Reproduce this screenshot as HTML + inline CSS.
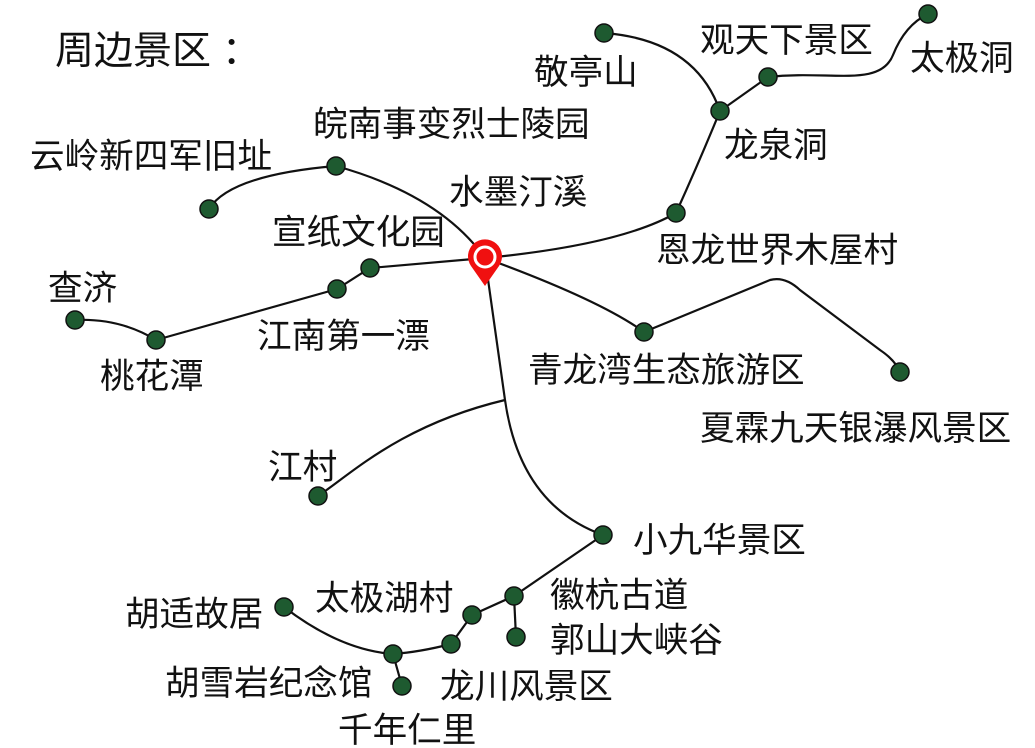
<!DOCTYPE html>
<html><head><meta charset="utf-8"><style>
html,body{margin:0;padding:0;background:#fff;}
svg{display:block}
text{font-family:"Liberation Sans","Noto Sans CJK SC",sans-serif;font-size:34.6px;fill:#111}
</style></head><body>
<svg width="1035" height="748" viewBox="0 0 1035 748">
<g fill="none" stroke="#111" stroke-width="2.2">
<path d="M485,258 Q620,245 676,213"/>
<path d="M676,213 Q700,160 720,111"/>
<path d="M720,111 Q695,40 604,33"/>
<path d="M720,111 L768,77"/>
<path d="M768,77 C830,70 880,88 893,55 Q905,25 928,14"/>
<path d="M485,258 Q440,195 336,166"/>
<path d="M336,166 Q230,175 209,209"/>
<path d="M485,258 L370,268 L337,289 L156,340"/>
<path d="M156,340 Q120,318 75,320"/>
<path d="M485,258 Q600,300 644,332"/>
<path d="M644,332 L770,280 Q785,276 800,290 L880,350 Q895,360 900,372"/>
<path d="M485,258 L505,400 Q520,505 603,535"/>
<path d="M505,400 C400,425 350,475 318,496"/>
<path d="M603,535 L514,596 L472,615 L451,644 Q420,652 393,654 Q340,650 284,607"/>
<path d="M514,596 L516,637"/>
<path d="M393,654 L402,686"/>
</g>
<g fill="#1e5a30" stroke="#111" stroke-width="1.5">
<circle cx="604" cy="33" r="9"/><circle cx="720" cy="111" r="9"/><circle cx="768" cy="77" r="9"/>
<circle cx="928" cy="14" r="9"/><circle cx="676" cy="213" r="9"/><circle cx="336" cy="166" r="9"/>
<circle cx="209" cy="209" r="9"/><circle cx="370" cy="268" r="9"/><circle cx="337" cy="289" r="9"/>
<circle cx="156" cy="340" r="9"/><circle cx="75" cy="320" r="9"/><circle cx="644" cy="332" r="9"/>
<circle cx="900" cy="372" r="9"/><circle cx="318" cy="496" r="9"/><circle cx="603" cy="535" r="9"/>
<circle cx="514" cy="596" r="9"/><circle cx="516" cy="637" r="9"/><circle cx="472" cy="615" r="9"/>
<circle cx="451" cy="644" r="9"/><circle cx="393" cy="654" r="9"/><circle cx="402" cy="686" r="9"/>
<circle cx="284" cy="607" r="9"/>
</g>
<path d="M485,286 L471,266 A17,17 0 1 1 499,266 Z" fill="#f01010"/>
<circle cx="485" cy="257" r="10" fill="none" stroke="#fff" stroke-width="3"/>
<circle cx="485" cy="257" r="5.5" fill="#f01010"/>
<text x="55" y="64" style="font-size:39px">周边景区 ：</text>
<text x="534" y="84">敬亭山</text>
<text x="700" y="52">观天下景区</text>
<text x="910" y="70">太极洞</text>
<text x="724" y="157">龙泉洞</text>
<text x="313" y="136">皖南事变烈士陵园</text>
<text x="30" y="168">云岭新四军旧址</text>
<text x="449" y="204">水墨汀溪</text>
<text x="272" y="244">宣纸文化园</text>
<text x="656" y="262">恩龙世界木屋村</text>
<text x="48" y="300">查济</text>
<text x="257" y="348">江南第一漂</text>
<text x="100" y="388">桃花潭</text>
<text x="528" y="382">青龙湾生态旅游区</text>
<text x="700" y="440">夏霖九天银瀑风景区</text>
<text x="268" y="479">江村</text>
<text x="633" y="552">小九华景区</text>
<text x="550" y="607">徽杭古道</text>
<text x="125" y="626">胡适故居</text>
<text x="315" y="610">太极湖村</text>
<text x="550" y="652">郭山大峡谷</text>
<text x="165" y="695">胡雪岩纪念馆</text>
<text x="440" y="698">龙川风景区</text>
<text x="338" y="742">千年仁里</text>
</svg>
</body></html>
